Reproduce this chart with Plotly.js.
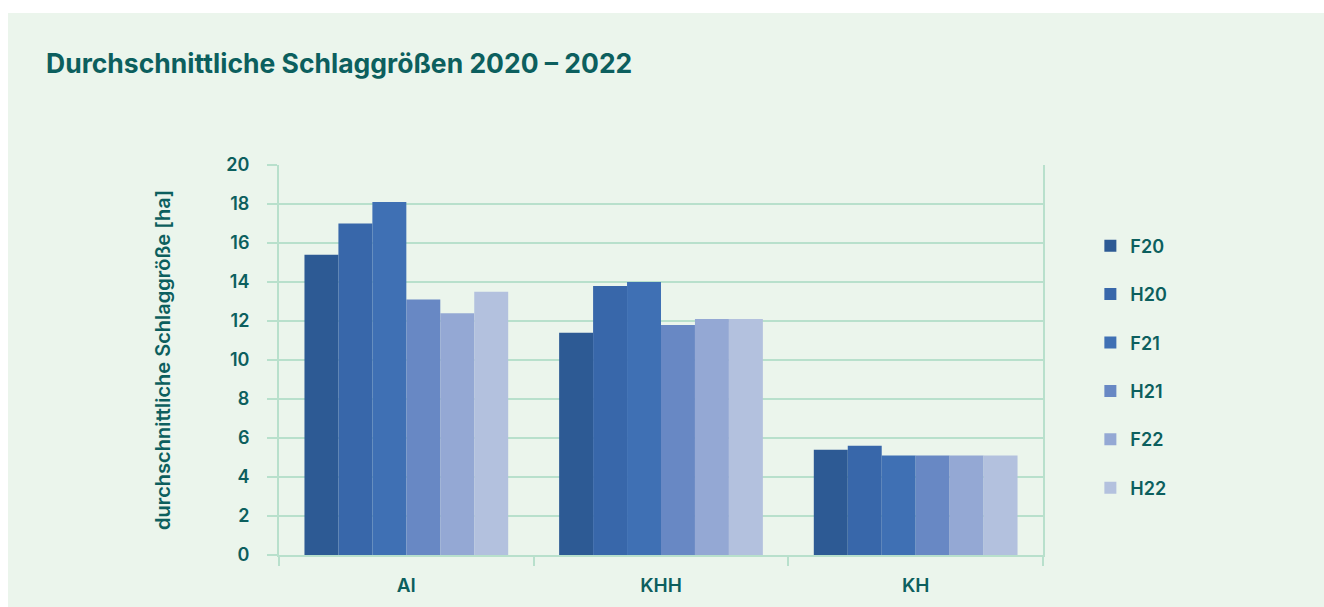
<!DOCTYPE html>
<html>
<head>
<meta charset="utf-8">
<script src="https://cdn.plot.ly/plotly-3.0.1.min.js"></script>
<style>
html,body{margin:0;padding:0;background:#ffffff;width:1324px;height:607px;overflow:hidden;}
#chart{position:absolute;left:8px;top:13px;width:1316px;height:594px;}
</style>
</head>
<body>
<div id="chart"></div>
<script>
const categories = ["AI", "KHH", "KH"];
const seriesNames = ["F20", "H20", "F21", "H21", "F22", "H22"];
const F20 = [15.4, 11.4, 5.4];
const H20 = [17.0, 13.8, 5.6];
const F21 = [18.1, 14.0, 5.1];
const H21 = [13.1, 11.8, 5.1];
const F22 = [12.4, 12.1, 5.1];
const H22 = [13.5, 12.1, 5.1];
const seriesValues = [F20, H20, F21, H21, F22, H22];
const colors = ["#2d5a94", "#3867aa", "#3f70b4", "#6888c4", "#94a8d4", "#b3c1de"];

const textColor = "#0c5f5e";
const gridColor = "#b8e0cc";
const bg = "#ebf5ec";
const fontFam = "Inter, 'Open Sans', sans-serif";

const traces = seriesNames.map((name, i) => ({
  type: "bar",
  name: name,
  x: categories,
  y: seriesValues[i],
  marker: {color: colors[i], line: {width: 0}},
  legendgroup: name,
  hoverinfo: "none"
}));

const layout = {
  width: 1316,
  height: 594,
  paper_bgcolor: bg,
  plot_bgcolor: bg,
  margin: {l: 271, r: 281, t: 152, b: 52},
  bargap: 0.2,
  bargroupgap: 0,
  barmode: "group",
  font: {family: fontFam, color: textColor},
  title: {
    text: "Durchschnittliche Schlaggrößen 2020 – 2022",
    font: {family: fontFam, size: 26.5, weight: 700, color: textColor},
    xref: "container", x: 38 / 1316, xanchor: "left",
    yref: "container", y: 1 - 51 / 594, yanchor: "middle"
  },
  xaxis: {
    type: "category",
    showgrid: false,
    showline: true,
    linecolor: gridColor,
    linewidth: 2,
    mirror: false,
    ticks: "outside",
    tickson: "boundaries",
    ticklen: 9,
    tickcolor: gridColor,
    tickwidth: 2,
    ticklabelstandoff: 12,
    tickfont: {family: fontFam, size: 19, weight: 600, color: textColor},
    zeroline: false
  },
  yaxis: {
    range: [0, 20],
    dtick: 2,
    tick0: 0,
    showgrid: true,
    gridcolor: gridColor,
    gridwidth: 2,
    showline: true,
    linecolor: gridColor,
    linewidth: 2,
    mirror: true,
    ticks: "outside",
    ticklen: 10,
    tickcolor: gridColor,
    tickwidth: 2,
    ticklabelstandoff: 14,
    zeroline: false,
    tickfont: {family: fontFam, size: 18, weight: 600, color: textColor},
    title: {
      text: "durchschnittliche Schlaggröße [ha]",
      font: {family: fontFam, size: 20, weight: 600, color: textColor},
      standoff: 50
    }
  },
  showlegend: true,
  legend: {
    x: 1.062, xanchor: "left",
    y: 0.482, yanchor: "middle",
    traceorder: "grouped",
    tracegroupgap: 22,
    bgcolor: "rgba(0,0,0,0)",
    font: {family: fontFam, size: 18, weight: 600, color: textColor}
  }
};

Plotly.newPlot("chart", traces, layout, {displayModeBar: false, staticPlot: true});
</script>
</body>
</html>
